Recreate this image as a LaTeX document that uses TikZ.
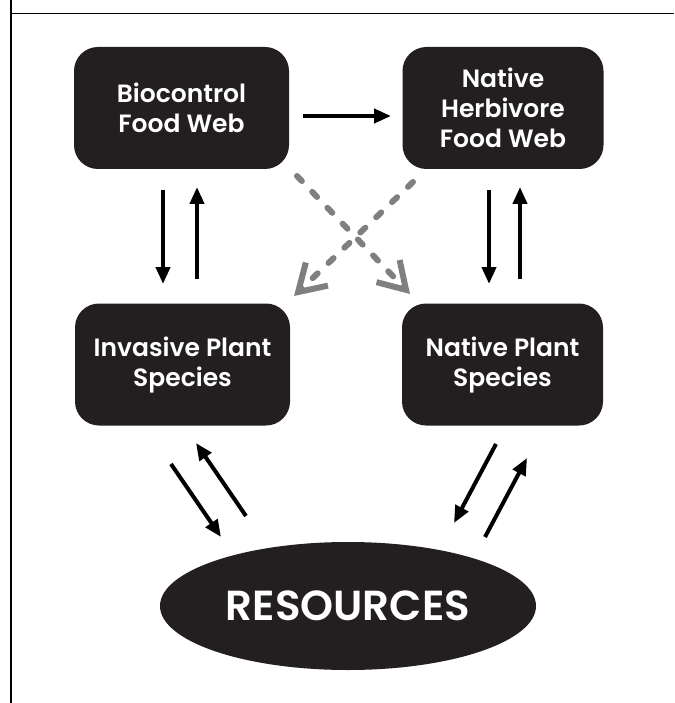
\documentclass[tikz,border=0pt]{standalone}
\usepackage{fontspec}
\setmainfont{Poppins}[BoldFont={Poppins SemiBold}]
\usetikzlibrary{arrows.meta,shapes.geometric}
\definecolor{boxc}{HTML}{231F20}
\definecolor{grayc}{HTML}{7F7F7F}
\tikzset{
  boxnode/.style={fill=boxc, rounded corners=24pt, text=white, align=center,
    minimum height=122pt, inner sep=0pt, font=\fontsize{25}{30}\selectfont\bfseries},
  blackarrow/.style={line width=4pt, -{Triangle[length=17pt,width=14pt]}},
  grayarrow/.style={draw=grayc, line width=6pt, line cap=round, dash pattern=on 7pt off 15pt,
    -{Straight Barb[length=26pt,width=32pt,line width=6pt]}},
}
\begin{document}
\begin{tikzpicture}[x=1pt,y=-1pt]
\useasboundingbox (0,0) rectangle (674,703);
\draw[line width=1.5pt] (11,0) -- (11,703);
\draw[line width=1pt] (11,14) -- (674,14);

\node[boxnode, minimum width=215pt] (bio) at (181.5,108) {Biocontrol\\Food Web};
\node[boxnode, minimum width=201pt] (herb) at (503,108) {Native\\Herbivore\\Food Web};
\node[boxnode, minimum width=215pt] (inv) at (182.5,364.5) {Invasive Plant\\Species};
\node[boxnode, minimum width=201pt] (nat) at (502.5,364.5) {Native Plant\\Species};
\node[ellipse, fill=boxc, text=white, minimum width=376pt, minimum height=128pt, inner sep=0pt,
  font=\fontsize{42}{46}\selectfont\bfseries] (res) at (348,606) {RESOURCES};

% horizontal
\coordinate (h1) at (303,116); \coordinate (h2) at (391,116);
\draw[blackarrow] (h1) -- (h2);
% left verticals
\coordinate (lv1a) at (163,190); \coordinate (lv1b) at (163,284);
\coordinate (lv2a) at (197,279); \coordinate (lv2b) at (197,187);
\draw[blackarrow] (lv1a) -- (lv1b);
\draw[blackarrow] (lv2a) -- (lv2b);
% right verticals
\coordinate (rv1a) at (489,190); \coordinate (rv1b) at (489,284);
\coordinate (rv2a) at (520,279); \coordinate (rv2b) at (520,187);
\draw[blackarrow] (rv1a) -- (rv1b);
\draw[blackarrow] (rv2a) -- (rv2b);
% gray dashed cross
\coordinate (g1a) at (297,176); \coordinate (g1b) at (410,294);
\coordinate (g2a) at (413,182); \coordinate (g2b) at (294,296);
\draw[grayarrow] (g1a) -- (g1b);
\draw[grayarrow] (g2a) -- (g2b);
% bottom left
\coordinate (bl1a) at (171,464); \coordinate (bl1b) at (221,537);
\coordinate (bl2a) at (246,516); \coordinate (bl2b) at (196,443);
\draw[blackarrow] (bl1a) -- (bl1b);
\draw[blackarrow] (bl2a) -- (bl2b);
% bottom right
\coordinate (br1a) at (496,444); \coordinate (br1b) at (454,523);
\coordinate (br2a) at (485,537); \coordinate (br2b) at (527,458);
\draw[blackarrow] (br1a) -- (br1b);
\draw[blackarrow] (br2a) -- (br2b);
\end{tikzpicture}
\end{document}
